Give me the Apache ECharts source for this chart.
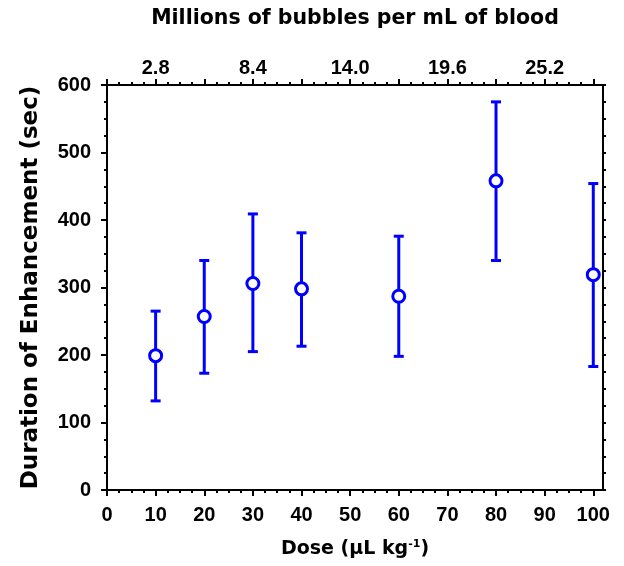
<!DOCTYPE html>
<html>
<head>
<meta charset="utf-8">
<script src="https://cdn.jsdelivr.net/npm/echarts@6/dist/echarts.min.js"></script>
<style>
html,body{margin:0;padding:0;background:#fff;}
#chart{width:624px;height:566px;}
</style>
</head>
<body>
<div id="chart"></div>
<script>
// Data
const doses = [10, 20, 30, 40, 60, 80, 100];
const meanDuration = [199, 257, 306, 298, 287, 458, 319];
const upperDuration = [265, 340, 409, 381, 376, 575, 454];
const lowerDuration = [132, 173, 205, 213, 198, 340, 183];

const bottomTickValues = [0, 10, 20, 30, 40, 50, 60, 70, 80, 90, 100];
const topTickDoses = [10, 30, 50, 70, 90];
const topTickLabels = ['2.8', '8.4', '14.0', '19.6', '25.2'];
const yTickValues = [0, 100, 200, 300, 400, 500, 600];

const X_MIN = 0, X_MAX = 102, Y_MIN = 0, Y_MAX = 600;

const xMinor = [];
for (let v = 0; v <= 100.01; v += 2.5) xMinor.push(v);
const yMinor = [];
for (let v = 0; v <= 600; v += 25) yMinor.push(v);

const FONT = 'Liberation Sans, Arial, sans-serif';
const TFONT = 'DejaVu Sans, sans-serif';
const axisLine = { show: true, onZero: false, lineStyle: { color: '#000', width: 2 } };

function baseX(pos, extra) {
  return Object.assign({
    type: 'value', position: pos, min: X_MIN, max: X_MAX,
    axisLine: axisLine, splitLine: { show: false },
    axisTick: { show: false }, axisLabel: { show: false }
  }, extra);
}
function baseY(pos, extra) {
  return Object.assign({
    type: 'value', position: pos, min: Y_MIN, max: Y_MAX,
    axisLine: axisLine, splitLine: { show: false },
    axisTick: { show: false }, axisLabel: { show: false }
  }, extra);
}

const errData = doses.map((d, i) => [d, lowerDuration[i], upperDuration[i]]);
const meanData = doses.map((d, i) => [d, meanDuration[i]]);

const chart = echarts.init(document.getElementById('chart'), null, { renderer: 'canvas' });
chart.setOption({
  animation: false,
  backgroundColor: '#fff',
  grid: { left: 107, right: 21, top: 85, bottom: 76, containLabel: false },
  xAxis: [
    baseX('bottom', {
      name: 'Dose (μL kg{sup|-1})', nameLocation: 'middle', nameGap: 49,
      nameTextStyle: { fontFamily: TFONT, fontWeight: 'bold', fontSize: 19, color: '#000',
        rich: { sup: { fontFamily: TFONT, fontWeight: 'bold', fontSize: 11, verticalAlign: 'top', padding: [0, 0, 10, 0] } } },
      axisTick: { show: true, inside: false, length: 6, lineStyle: { width: 2, color: '#000' }, customValues: bottomTickValues },
      axisLabel: { show: true, margin: 15, fontFamily: FONT, fontWeight: 'bold', fontSize: 20, color: '#000', customValues: bottomTickValues }
    }),
    baseX('bottom', {
      axisTick: { show: true, inside: false, length: 3, lineStyle: { width: 2, color: '#000' }, customValues: xMinor }
    }),
    baseX('top', {
      name: 'Millions of bubbles per mL of blood', nameLocation: 'middle', nameGap: 56,
      nameTextStyle: { fontFamily: TFONT, fontWeight: 'bold', fontSize: 20.5, color: '#000' },
      axisTick: { show: true, inside: false, length: 6, lineStyle: { width: 2, color: '#000' }, customValues: bottomTickValues },
      axisLabel: { show: true, margin: 7, fontFamily: FONT, fontWeight: 'bold', fontSize: 20, color: '#000',
        customValues: topTickDoses,
        formatter: function (v) { const k = topTickDoses.indexOf(Math.round(v)); return k >= 0 ? topTickLabels[k] : ''; } }
    }),
    baseX('top', {
      axisTick: { show: true, inside: false, length: 3, lineStyle: { width: 2, color: '#000' }, customValues: xMinor }
    })
  ],
  yAxis: [
    baseY('left', {
      name: 'Duration of Enhancement (sec)', nameLocation: 'middle', nameGap: 64,
      nameTextStyle: { fontFamily: TFONT, fontWeight: 'bold', fontSize: 23, color: '#000' },
      axisTick: { show: true, inside: false, length: 6, lineStyle: { width: 2, color: '#000' }, customValues: yTickValues },
      axisLabel: { show: true, margin: 16, fontFamily: FONT, fontWeight: 'bold', fontSize: 20, color: '#000', customValues: yTickValues }
    }),
    baseY('left', {
      axisTick: { show: true, inside: false, length: 3, lineStyle: { width: 2, color: '#000' }, customValues: yMinor }
    }),
    baseY('right', {
      axisTick: { show: true, inside: false, length: 3, lineStyle: { width: 2, color: '#000' }, customValues: yMinor }
    })
  ],
  series: [
    {
      type: 'custom', xAxisIndex: 0, yAxisIndex: 0, z: 2,
      data: errData,
      renderItem: function (params, api) {
        const x = api.value(0);
        const lo = api.coord([x, api.value(1)]);
        const hi = api.coord([x, api.value(2)]);
        const hw = 5;
        const style = { stroke: '#0000FF', lineWidth: 3 };
        return {
          type: 'group',
          children: [
            { type: 'line', shape: { x1: lo[0], y1: lo[1], x2: hi[0], y2: hi[1] }, style: style },
            { type: 'line', shape: { x1: lo[0] - hw, y1: lo[1], x2: lo[0] + hw, y2: lo[1] }, style: style },
            { type: 'line', shape: { x1: hi[0] - hw, y1: hi[1], x2: hi[0] + hw, y2: hi[1] }, style: style }
          ]
        };
      }
    },
    {
      type: 'scatter', xAxisIndex: 0, yAxisIndex: 0, z: 3,
      data: meanData,
      symbol: 'circle', symbolSize: 12,
      itemStyle: { color: '#fff', borderColor: '#0000FF', borderWidth: 3, opacity: 1 }
    }
  ]
});
</script>
</body>
</html>
